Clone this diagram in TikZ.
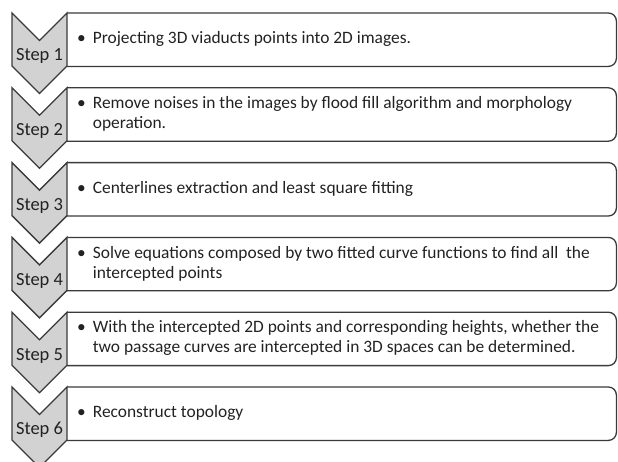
\documentclass[tikz,border=0pt]{standalone}
\usepackage{fontspec}
\setmainfont{Carlito}
\usetikzlibrary{positioning}
\definecolor{Chevron}{HTML}{D2D2D2}
\definecolor{Borde}{HTML}{3A3A3A}
\definecolor{Texto}{HTML}{222222}

\begin{document}
\begin{tikzpicture}[
    x=1pt,y=1pt,
    node distance=21.4pt,
    every node/.style={font=\fontsize{17.4}{20}\selectfont,text=Texto},
    stepbox/.style={minimum width=549pt,minimum height=53pt,inner sep=0pt},
    frame/.style={draw=Borde,line width=1.3pt,rounded corners=8pt},
    chevron/.style={draw=Borde,line width=1.3pt,fill=Chevron,line join=miter},
    desc/.style={anchor=west,inner sep=0pt,xshift=10pt},
    steplabel/.style={anchor=base,inner sep=0pt,font=\fontsize{18.5}{20}\selectfont}
  ]
    \clip (0,0) rectangle (618,-461);
    % the six boxes, one below the other
    \node[stepbox,anchor=north west] (b1) at (67,-13) {};
    \node[stepbox,below=of b1] (b2) {};
    \node[stepbox,below=of b2] (b3) {};
    \node[stepbox,below=of b3] (b4) {};
    \node[stepbox,below=of b4] (b5) {};
    \node[stepbox,below=of b5] (b6) {};
    % outlines: box with round right corners, chevron on its left
    \foreach \i in {1,...,6}{
      \draw[frame] (b\i.south west) -- (b\i.south east) -- (b\i.north east) -- (b\i.north west);
      \draw[chevron] (b\i.north west) -- ++(-27.5,-27.5) -- ++(-27.5,27.5) -- ++(0,-53)
        -- ++(27.5,-27.5) -- ++(27.5,27.5) -- cycle;
      \coordinate (c\i) at ([xshift=-27.5pt,yshift=5.5pt]b\i.south west);
    }
    % step names
    \node[steplabel] (s1) at (c1) {Step 1};
    \node[steplabel] (s2) at (c2) {Step 2};
    \node[steplabel] (s3) at (c3) {Step 3};
    \node[steplabel] (s4) at (c4) {Step 4};
    \node[steplabel] (s5) at (c5) {Step 5};
    \node[steplabel] (s6) at (c6) {Step 6};
    % descriptions
    \node[desc] (t1) at (b1.west) {\textbullet\hspace{7pt}\begin{tabular}[t]{@{}l@{}}Projecting 3D viaducts points into 2D images.\end{tabular}};
    \node[desc] (t2) at (b2.west) {\textbullet\hspace{7pt}\begin{tabular}[t]{@{}l@{}}Remove noises in the images by flood fill algorithm and morphology\\operation.\end{tabular}};
    \node[desc] (t3) at (b3.west) {\textbullet\hspace{7pt}\begin{tabular}[t]{@{}l@{}}Centerlines extraction and least square fitting\end{tabular}};
    \node[desc] (t4) at (b4.west) {\textbullet\hspace{7pt}\begin{tabular}[t]{@{}l@{}}Solve equations composed by two fitted curve functions to find all\ \ the\\intercepted points\end{tabular}};
    \node[desc] (t5) at (b5.west) {\textbullet\hspace{7pt}\begin{tabular}[t]{@{}l@{}}With the intercepted 2D points and corresponding heights, whether the\\two passage curves are intercepted in 3D spaces can be determined.\end{tabular}};
    \node[desc] (t6) at (b6.west) {\textbullet\hspace{7pt}\begin{tabular}[t]{@{}l@{}}Reconstruct topology\end{tabular}};
\end{tikzpicture}
\end{document}
